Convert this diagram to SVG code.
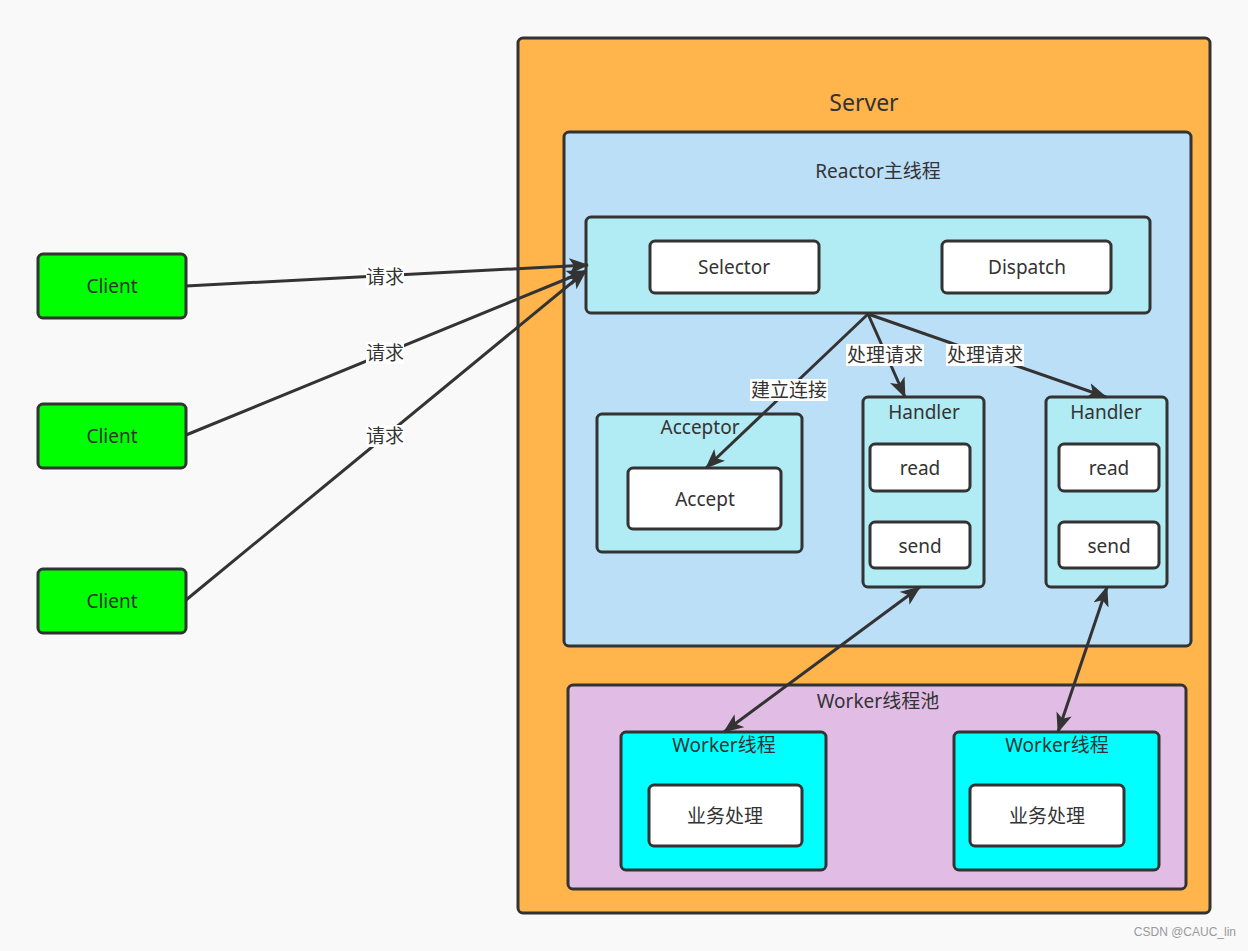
<svg xmlns="http://www.w3.org/2000/svg" width="1248" height="951" viewBox="0 0 1248 951">
<style>
.b{stroke:#333;stroke-width:3}
.t{font-family:"Noto Sans","Noto Sans CJK SC",sans-serif;font-size:19px;fill:#333;text-anchor:middle;dominant-baseline:central}
.e{fill:none;stroke:#333;stroke-width:3}
.lb{fill:#fff}
</style>
<defs>
<marker id="a" viewBox="0 0 20 16" refX="19" refY="8" markerWidth="20" markerHeight="16" markerUnits="userSpaceOnUse" orient="auto-start-reverse">
<path d="M0,0 L20,8 L0,16 L5,8 z" fill="#333"/>
</marker>
</defs>
<rect width="1248" height="951" fill="#f9f9f9"/>
<g id="server"><rect class="b" x="518" y="38" width="692" height="875" rx="5" fill="#ffb54c"/><text class="t" x="864" y="102" style="font-size:23px">Server</text></g>
<g id="reactor"><rect class="b" x="564" y="132" width="627" height="514" rx="5" fill="#bcdff8"/><text class="t" x="878" y="171">Reactor主线程</text></g>
<g id="core"><rect class="b" x="586" y="217" width="564" height="96" rx="5" fill="#b1ebf3"/></g>
<g id="selector"><rect class="b" x="650" y="241" width="169" height="52" rx="5" fill="#fff"/><text class="t" x="734" y="267">Selector</text></g>
<g id="dispatch"><rect class="b" x="942" y="241" width="169" height="52" rx="5" fill="#fff"/><text class="t" x="1027" y="267">Dispatch</text></g>
<g id="acceptor"><rect class="b" x="597" y="414" width="205" height="138" rx="5" fill="#b1ebf3"/><text class="t" x="700" y="427">Acceptor</text></g>
<g id="accept"><rect class="b" x="628" y="468" width="153" height="61" rx="5" fill="#fff"/><text class="t" x="705" y="499">Accept</text></g>
<g id="handler1"><rect class="b" x="863" y="397" width="121" height="190" rx="5" fill="#b1ebf3"/><text class="t" x="924" y="412">Handler</text></g>
<g id="read1"><rect class="b" x="870" y="444" width="100" height="47" rx="5" fill="#fff"/><text class="t" x="920" y="468">read</text></g>
<g id="send1"><rect class="b" x="870" y="522" width="100" height="46" rx="5" fill="#fff"/><text class="t" x="920" y="546">send</text></g>
<g id="handler2"><rect class="b" x="1046" y="397" width="121" height="190" rx="5" fill="#b1ebf3"/><text class="t" x="1106" y="412">Handler</text></g>
<g id="read2"><rect class="b" x="1059" y="444" width="100" height="47" rx="5" fill="#fff"/><text class="t" x="1109" y="468">read</text></g>
<g id="send2"><rect class="b" x="1059" y="522" width="100" height="46" rx="5" fill="#fff"/><text class="t" x="1109" y="546">send</text></g>
<g id="pool"><rect class="b" x="568" y="685" width="618" height="204" rx="5" fill="#e1bde6"/><text class="t" x="878" y="701">Worker线程池</text></g>
<g id="worker1"><rect class="b" x="621" y="732" width="205" height="138" rx="5" fill="#00ffff"/><text class="t" x="724" y="745">Worker线程</text></g>
<g id="biz1"><rect class="b" x="649" y="785" width="153" height="61" rx="5" fill="#fff"/><text class="t" x="725" y="816">业务处理</text></g>
<g id="worker2"><rect class="b" x="954" y="732" width="205" height="138" rx="5" fill="#00ffff"/><text class="t" x="1057" y="745">Worker线程</text></g>
<g id="biz2"><rect class="b" x="970" y="785" width="154" height="61" rx="5" fill="#fff"/><text class="t" x="1047" y="816">业务处理</text></g>
<g id="client1"><rect class="b" x="38" y="254" width="148" height="64" rx="5" fill="#00ff00"/><text class="t" x="112" y="286">Client</text></g>
<g id="client2"><rect class="b" x="38" y="404" width="148" height="64" rx="5" fill="#00ff00"/><text class="t" x="112" y="436">Client</text></g>
<g id="client3"><rect class="b" x="38" y="569" width="148" height="64" rx="5" fill="#00ff00"/><text class="t" x="112" y="601">Client</text></g>
<g id="connectors">
<path class="e" d="M186,286 L588,265" marker-end="url(#a)"/>
<path class="e" d="M186,435 L586,271" marker-end="url(#a)"/>
<path class="e" d="M186,600 L586,271" marker-end="url(#a)"/>
<path class="e" d="M868,314 L706,468" marker-end="url(#a)"/>
<path class="e" d="M868,314 L905,397" marker-end="url(#a)"/>
<path class="e" d="M868,314 L1106,397" marker-end="url(#a)"/>
<path class="e" d="M920,587 L724,732" marker-start="url(#a)" marker-end="url(#a)"/>
<path class="e" d="M1107,587 L1058,732" marker-start="url(#a)" marker-end="url(#a)"/>
<rect class="lb" x="366" y="266" width="38" height="22"/><text class="t" x="385" y="277">请求</text>
<rect class="lb" x="366" y="342" width="38" height="22"/><text class="t" x="385" y="353">请求</text>
<rect class="lb" x="366" y="425" width="38" height="22"/><text class="t" x="385" y="436">请求</text>
<rect class="lb" x="750" y="379" width="78" height="22"/><text class="t" x="789" y="390">建立连接</text>
<rect class="lb" x="846" y="344" width="78" height="22"/><text class="t" x="885" y="355">处理请求</text>
<rect class="lb" x="946" y="344" width="78" height="22"/><text class="t" x="985" y="355">处理请求</text>
</g>
<text x="1236" y="936" style="font-family:'Liberation Sans',sans-serif;font-size:12px;fill:#999;text-anchor:end">CSDN @CAUC_lin</text>
</svg>
